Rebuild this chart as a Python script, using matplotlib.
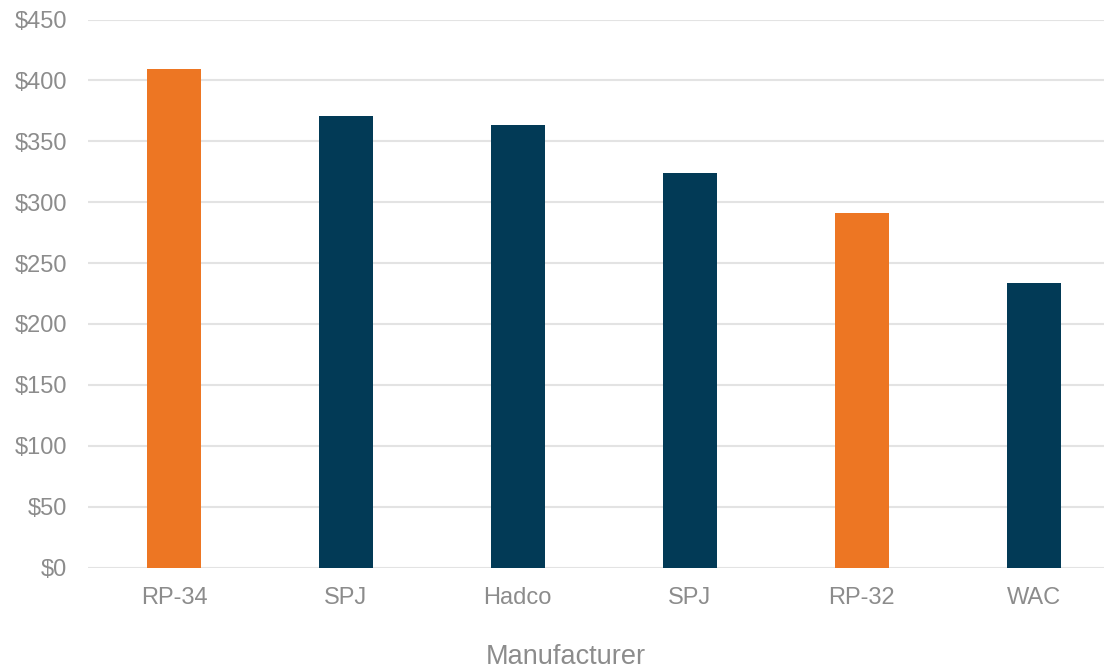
import matplotlib.pyplot as plt
from matplotlib.ticker import FuncFormatter

# --- data --- #
manufacturers = ["RP-34", "SPJ", "Hadco", "SPJ", "RP-32", "WAC"]
prices        = [409, 371, 363, 324, 291, 234]
highlight     = [True, False, False, False, True, False]

ORANGE = "#ED7623"
NAVY   = "#023A56"
GREY   = "#8C8C8C"
GRID   = "#E3E3E3"

plt.rcParams["font.family"] = ["Liberation Sans", "DejaVu Sans"]

fig = plt.figure(figsize=(11.04, 6.72), dpi=100)
# right edge of the plot is cut off in the reference, so axes run to the figure edge
ax = fig.add_axes([88 / 1104, (672 - 567.5) / 672, 1 - 88 / 1104, 548 / 672])

x = list(range(len(manufacturers)))
colors = [ORANGE if h else NAVY for h in highlight]
ax.bar(x, prices, width=0.314, color=colors, zorder=3)

ax.set_ylim(0, 450)
ax.set_xlim(-0.5, 5.41)
ax.set_yticks(range(0, 451, 50))
ax.yaxis.set_major_formatter(FuncFormatter(lambda v, p: f"${int(v)}"))
ax.set_xticks(x)
ax.set_xticklabels(manufacturers)

ax.grid(axis="y", color=GRID, linewidth=1.5, zorder=0)
for s in ax.spines.values():
    s.set_visible(False)
ax.tick_params(axis="both", length=0, labelsize=17, labelcolor=GREY)
ax.tick_params(axis="y", pad=15)
ax.tick_params(axis="x", pad=14)

fig.text(566 / 1104, 1 - 657 / 672, "Manufacturer", ha="center", va="center",
         fontsize=19.5, color=GREY)

fig.savefig("out.png", dpi=100)
